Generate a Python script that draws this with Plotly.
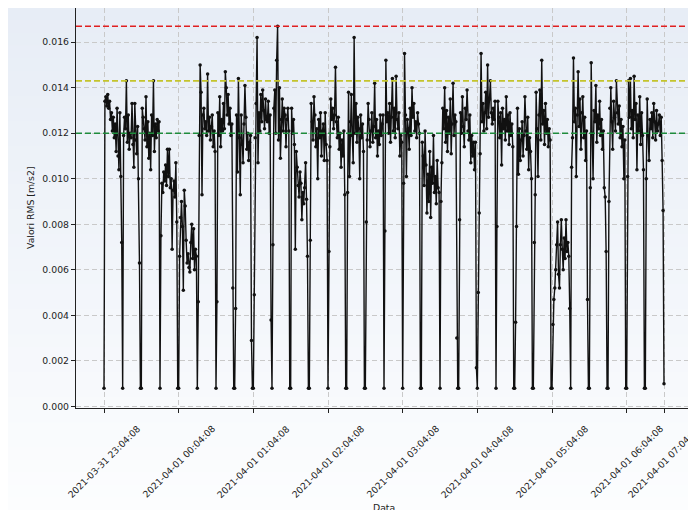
import pandas as pd
import plotly.graph_objects as go

# ---- data (RMS values, m/s2), sampled every 45 s from 2021-03-31 23:04:08 ----
start_time = "2021-03-31 23:04:08"
sample_step = "45s"

h23 = [
    0.0008, 0.0134, 0.0136, 0.0132, 0.0137, 0.0131, 0.0134, 0.0126, 0.0129, 0.0121, 0.0127, 0.0118, 0.0124, 0.0112, 0.0131, 0.0110, 0.0104, 0.0129, 0.0101, 0.0072,
    0.0008, 0.0119, 0.0127, 0.0122, 0.0143, 0.0116, 0.0128, 0.0113, 0.0120, 0.0118, 0.0133, 0.0115, 0.0105, 0.0133, 0.0117, 0.0111, 0.0123, 0.0100, 0.0063, 0.0008,
    0.0008, 0.0131, 0.0127, 0.0122, 0.0117, 0.0136, 0.0114, 0.0125, 0.0109, 0.0120, 0.0104, 0.0128, 0.0119, 0.0143, 0.0112, 0.0124, 0.0118, 0.0126, 0.0121, 0.0125,
    0.0008, 0.0075, 0.0098, 0.0094, 0.0103, 0.0099, 0.0106, 0.0097, 0.0113, 0.0101, 0.0113, 0.0096, 0.0100, 0.0069, 0.0095, 0.0099, 0.0092, 0.0107, 0.0081, 0.0008,
]
h00 = [
    0.0008, 0.0066, 0.0083, 0.0090, 0.0079, 0.0051, 0.0095, 0.0088, 0.0073, 0.0063, 0.0067, 0.0061, 0.0059, 0.0072, 0.0080, 0.0065, 0.0078, 0.0060, 0.0069, 0.0066,
    0.0008, 0.0046, 0.0119, 0.0150, 0.0138, 0.0093, 0.0128, 0.0131, 0.0122, 0.0125, 0.0119, 0.0146, 0.0121, 0.0127, 0.0117, 0.0123, 0.0128, 0.0114, 0.0121, 0.0112,
    0.0008, 0.0046, 0.0129, 0.0119, 0.0136, 0.0114, 0.0126, 0.0121, 0.0133, 0.0122, 0.0147, 0.0140, 0.0128, 0.0137, 0.0124, 0.0131, 0.0119, 0.0124, 0.0052, 0.0008,
    0.0008, 0.0043, 0.0128, 0.0103, 0.0144, 0.0118, 0.0093, 0.0128, 0.0115, 0.0107, 0.0124, 0.0141, 0.0127, 0.0113, 0.0120, 0.0108, 0.0116, 0.0119, 0.0029, 0.0008,
]
h01 = [
    0.0008, 0.0049, 0.0118, 0.0133, 0.0162, 0.0107, 0.0129, 0.0121, 0.0137, 0.0125, 0.0139, 0.0130, 0.0122, 0.0135, 0.0126, 0.0125, 0.0134, 0.0120, 0.0128, 0.0038,
    0.0008, 0.0071, 0.0131, 0.0139, 0.0120, 0.0152, 0.0167, 0.0117, 0.0140, 0.0109, 0.0126, 0.0135, 0.0121, 0.0131, 0.0128, 0.0114, 0.0126, 0.0131, 0.0121, 0.0008,
    0.0008, 0.0131, 0.0120, 0.0126, 0.0115, 0.0069, 0.0112, 0.0105, 0.0097, 0.0092, 0.0103, 0.0098, 0.0082, 0.0094, 0.0089, 0.0096, 0.0107, 0.0091, 0.0066, 0.0008,
    0.0008, 0.0073, 0.0133, 0.0125, 0.0117, 0.0136, 0.0128, 0.0114, 0.0122, 0.0100, 0.0126, 0.0118, 0.0129, 0.0110, 0.0121, 0.0124, 0.0108, 0.0129, 0.0115, 0.0108,
]
h02 = [
    0.0008, 0.0068, 0.0114, 0.0135, 0.0126, 0.0131, 0.0122, 0.0128, 0.0149, 0.0125, 0.0118, 0.0127, 0.0113, 0.0120, 0.0105, 0.0117, 0.0110, 0.0121, 0.0093, 0.0008,
    0.0008, 0.0094, 0.0138, 0.0101, 0.0125, 0.0137, 0.0119, 0.0107, 0.0162, 0.0120, 0.0133, 0.0116, 0.0127, 0.0122, 0.0100, 0.0128, 0.0118, 0.0124, 0.0112, 0.0008,
    0.0008, 0.0081, 0.0117, 0.0133, 0.0126, 0.0114, 0.0121, 0.0129, 0.0116, 0.0123, 0.0142, 0.0118, 0.0126, 0.0110, 0.0121, 0.0115, 0.0128, 0.0119, 0.0124, 0.0128,
    0.0008, 0.0077, 0.0152, 0.0125, 0.0129, 0.0120, 0.0133, 0.0116, 0.0127, 0.0144, 0.0121, 0.0131, 0.0118, 0.0145, 0.0126, 0.0122, 0.0129, 0.0110, 0.0119, 0.0116,
]
h03 = [
    0.0008, 0.0098, 0.0155, 0.0128, 0.0101, 0.0126, 0.0122, 0.0113, 0.0131, 0.0119, 0.0140, 0.0127, 0.0133, 0.0121, 0.0125, 0.0118, 0.0129, 0.0124, 0.0120, 0.0008,
    0.0008, 0.0116, 0.0110, 0.0097, 0.0121, 0.0106, 0.0085, 0.0102, 0.0090, 0.0112, 0.0083, 0.0105, 0.0098, 0.0119, 0.0094, 0.0101, 0.0089, 0.0108, 0.0096, 0.0094,
    0.0008, 0.0090, 0.0107, 0.0131, 0.0122, 0.0140, 0.0116, 0.0130, 0.0112, 0.0127, 0.0120, 0.0135, 0.0111, 0.0124, 0.0142, 0.0119, 0.0128, 0.0125, 0.0030, 0.0008,
    0.0008, 0.0082, 0.0129, 0.0120, 0.0136, 0.0123, 0.0114, 0.0131, 0.0126, 0.0139, 0.0121, 0.0117, 0.0128, 0.0107, 0.0119, 0.0110, 0.0116, 0.0104, 0.0116, 0.0017,
]
h04 = [
    0.0008, 0.0050, 0.0085, 0.0111, 0.0155, 0.0125, 0.0133, 0.0121, 0.0129, 0.0138, 0.0122, 0.0150, 0.0127, 0.0135, 0.0143, 0.0129, 0.0124, 0.0131, 0.0126, 0.0134,
    0.0008, 0.0079, 0.0134, 0.0127, 0.0118, 0.0129, 0.0106, 0.0131, 0.0122, 0.0126, 0.0117, 0.0136, 0.0121, 0.0128, 0.0115, 0.0129, 0.0119, 0.0124, 0.0114, 0.0008,
    0.0008, 0.0037, 0.0079, 0.0131, 0.0102, 0.0122, 0.0108, 0.0117, 0.0125, 0.0110, 0.0119, 0.0136, 0.0121, 0.0113, 0.0127, 0.0104, 0.0118, 0.0112, 0.0100, 0.0008,
    0.0008, 0.0072, 0.0093, 0.0138, 0.0122, 0.0101, 0.0128, 0.0139, 0.0117, 0.0152, 0.0124, 0.0130, 0.0115, 0.0133, 0.0120, 0.0126, 0.0114, 0.0122, 0.0117, 0.0008,
]
h05 = [
    0.0008, 0.0036, 0.0047, 0.0052, 0.0060, 0.0071, 0.0081, 0.0058, 0.0052, 0.0071, 0.0082, 0.0069, 0.0060, 0.0074, 0.0065, 0.0082, 0.0068, 0.0072, 0.0066, 0.0043,
    0.0008, 0.0105, 0.0118, 0.0153, 0.0125, 0.0131, 0.0101, 0.0128, 0.0147, 0.0123, 0.0135, 0.0113, 0.0129, 0.0136, 0.0118, 0.0127, 0.0108, 0.0121, 0.0047, 0.0008,
    0.0008, 0.0096, 0.0151, 0.0120, 0.0100, 0.0130, 0.0125, 0.0141, 0.0116, 0.0128, 0.0122, 0.0134, 0.0119, 0.0126, 0.0113, 0.0121, 0.0096, 0.0092, 0.0068, 0.0008,
    0.0008, 0.0090, 0.0131, 0.0140, 0.0125, 0.0113, 0.0134, 0.0127, 0.0121, 0.0143, 0.0129, 0.0124, 0.0132, 0.0118, 0.0126, 0.0114, 0.0123, 0.0100, 0.0117, 0.0008,
]
h06 = [
    0.0008, 0.0101, 0.0143, 0.0127, 0.0144, 0.0122, 0.0130, 0.0118, 0.0145, 0.0126, 0.0133, 0.0104, 0.0128, 0.0121, 0.0136, 0.0115, 0.0129, 0.0119, 0.0104, 0.0008,
    0.0008, 0.0100, 0.0135, 0.0119, 0.0108, 0.0126, 0.0122, 0.0129, 0.0118, 0.0133, 0.0125, 0.0117, 0.0130, 0.0121, 0.0124, 0.0128, 0.0119, 0.0127, 0.0108, 0.0086,
    0.0010,
]

tick_times = [
    "2021-03-31 23:04:08", "2021-04-01 00:04:08", "2021-04-01 01:04:08", "2021-04-01 02:04:08",
    "2021-04-01 03:04:08", "2021-04-01 04:04:08", "2021-04-01 05:04:08", "2021-04-01 06:04:08",
    "2021-04-01 06:34:08",
]
tick_labels = [
    "2021-03-31 23:04:08", "2021-04-01 00:04:08", "2021-04-01 01:04:08", "2021-04-01 02:04:08",
    "2021-04-01 03:04:08", "2021-04-01 04:04:08", "2021-04-01 05:04:08", "2021-04-01 06:04:08",
    "2021-04-01 07:04:08",
]
y_ticks = [0.000, 0.002, 0.004, 0.006, 0.008, 0.010, 0.012, 0.014, 0.016]

threshold_values = [0.0167, 0.0143, 0.0120]
threshold_colors = ["#e02020", "#c4c42c", "#1e8c3c"]

# ---- build ----
values = h23 + h00 + h01 + h02 + h03 + h04 + h05 + h06
times = pd.date_range(start_time, periods=len(values), freq=sample_step)

# the page body has an 8 px margin, so the figure is sized to fill the rest of the window
W, H = 688, 502
ml, mr, mt, mb = 68, 4, 0, 102
pw, ph = W - ml - mr, H - mt - mb

fig = go.Figure()
fig.add_trace(go.Scatter(
    x=times, y=values, mode="lines+markers",
    line=dict(color="#111111", width=1.4),
    marker=dict(color="#111111", size=3.5),
    showlegend=False, hoverinfo="x+y",
))

shapes = []
# vertical background gradient over the whole figure
n_bands = 40
top_c = (231, 237, 246)
bot_c = (252, 253, 254)
y_lo = -mb / ph
y_hi = 1 + mt / ph
for i in range(n_bands):
    t = i / (n_bands - 1)
    c = tuple(round(bot_c[k] + (top_c[k] - bot_c[k]) * t) for k in range(3))
    y0 = y_lo + (y_hi - y_lo) * i / n_bands
    y1 = y_lo + (y_hi - y_lo) * (i + 1) / n_bands + 0.002
    shapes.append(dict(type="rect", xref="paper", yref="paper",
                       x0=-ml / pw - 0.01, x1=1 + mr / pw + 0.01, y0=y0, y1=y1,
                       fillcolor="rgb(%d,%d,%d)" % c, line=dict(width=0), layer="below"))

for v, c in zip(threshold_values, threshold_colors):
    shapes.append(dict(type="line", xref="paper", yref="y", x0=0, x1=1, y0=v, y1=v,
                       line=dict(color=c, width=1.6, dash="6px,3px"), layer="above"))

font = "DejaVu Sans, sans-serif"
txt_color = "#222222"

annotations = []
# x tick labels, rotated 45 degrees and centred under their ticks
for tv, tl in zip(tick_times, tick_labels):
    annotations.append(dict(text=tl, x=tv, xref="x", y=-12 / ph, yref="paper",
                            xanchor="center", yanchor="top", textangle=-45,
                            showarrow=False, font=dict(size=9.2, color=txt_color)))
# axis titles
annotations.append(dict(text="Data", xref="paper", yref="paper", x=0.5,
                        y=-(H - 3 - mt - ph) / ph,
                        xanchor="center", yanchor="middle", showarrow=False,
                        font=dict(size=9.3, color=txt_color)))
annotations.append(dict(text="Valori RMS [m/s2]", xref="paper", yref="paper",
                        x=-(ml - 22) / pw, y=0.5, textangle=-90,
                        xanchor="center", yanchor="middle", showarrow=False,
                        font=dict(size=9.3, color=txt_color)))

fig.update_layout(
    width=W, height=H,
    margin=dict(l=ml, r=mr, t=mt, b=mb, autoexpand=False),
    paper_bgcolor="white",
    plot_bgcolor="rgba(0,0,0,0)",
    shapes=shapes,
    annotations=annotations,
    font=dict(family=font, size=9.3, color=txt_color),
    xaxis=dict(
        type="date", automargin=False,
        range=["2021-03-31 22:41:38", "2021-04-01 06:56:38"],
        tickmode="array", tickvals=tick_times, showticklabels=False,
        ticks="outside", ticklen=4, tickwidth=1, tickcolor=txt_color,
        showgrid=True, gridcolor="#c9c9c9", griddash="5px,3px", gridwidth=1.2,
        showline=True, linecolor=txt_color, linewidth=1.3, mirror=True,
        zeroline=False,
    ),
    yaxis=dict(
        automargin=False,
        range=[-0.00007, 0.0175],
        tickmode="array", tickvals=y_ticks, tickformat=".3f",
        ticks="outside", ticklen=4, tickwidth=1, tickcolor=txt_color,
        showgrid=True, gridcolor="#c9c9c9", griddash="5px,3px", gridwidth=1.2,
        showline=True, linecolor=txt_color, linewidth=1.3, mirror=True,
        zeroline=False,
    ),
)

fig.write_html("out.html")
